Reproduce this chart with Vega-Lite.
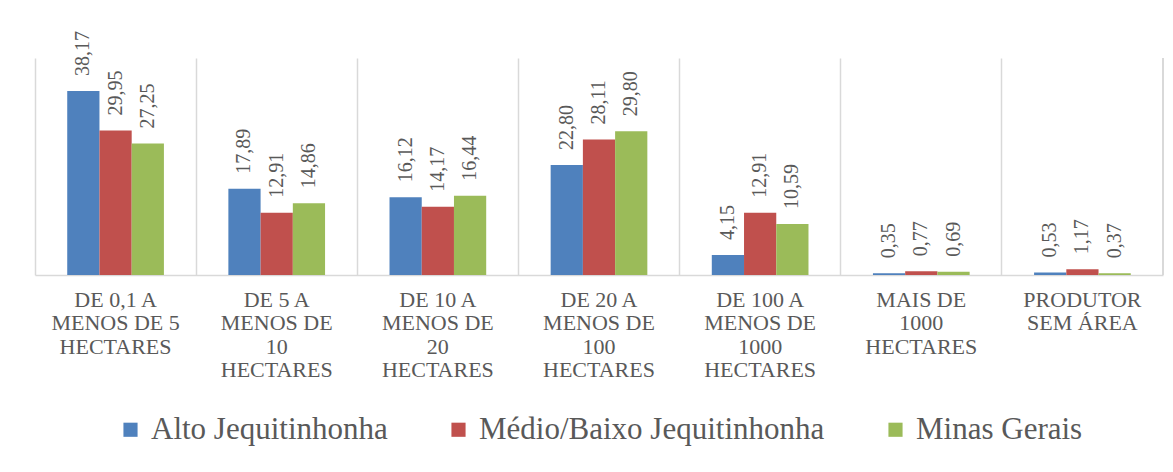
{
  "$schema": "https://vega.github.io/schema/vega-lite/v6.json",
  "width": 1128,
  "height": 217,
  "autosize": {"type": "none"},
  "padding": {"left": 35, "top": 58, "right": 10, "bottom": 197},
  "background": "white",
  "config": {
    "view": {"stroke": null},
    "font": "'Liberation Serif', 'DejaVu Serif', serif",
    "legend": {"layout": {"bottom": {"anchor": "middle"}}}
  },
  "data": {
    "values": [
      {"cat": "DE 0,1 A\nMENOS DE 5\nHECTARES", "serie": "Alto Jequitinhonha", "valor": 38.17, "rotulo": "38,17"},
      {"cat": "DE 0,1 A\nMENOS DE 5\nHECTARES", "serie": "Médio/Baixo Jequitinhonha", "valor": 29.95, "rotulo": "29,95"},
      {"cat": "DE 0,1 A\nMENOS DE 5\nHECTARES", "serie": "Minas Gerais", "valor": 27.25, "rotulo": "27,25"},
      {"cat": "DE 5 A\nMENOS DE\n10\nHECTARES", "serie": "Alto Jequitinhonha", "valor": 17.89, "rotulo": "17,89"},
      {"cat": "DE 5 A\nMENOS DE\n10\nHECTARES", "serie": "Médio/Baixo Jequitinhonha", "valor": 12.91, "rotulo": "12,91"},
      {"cat": "DE 5 A\nMENOS DE\n10\nHECTARES", "serie": "Minas Gerais", "valor": 14.86, "rotulo": "14,86"},
      {"cat": "DE 10 A\nMENOS DE\n20\nHECTARES", "serie": "Alto Jequitinhonha", "valor": 16.12, "rotulo": "16,12"},
      {"cat": "DE 10 A\nMENOS DE\n20\nHECTARES", "serie": "Médio/Baixo Jequitinhonha", "valor": 14.17, "rotulo": "14,17"},
      {"cat": "DE 10 A\nMENOS DE\n20\nHECTARES", "serie": "Minas Gerais", "valor": 16.44, "rotulo": "16,44"},
      {"cat": "DE 20 A\nMENOS DE\n100\nHECTARES", "serie": "Alto Jequitinhonha", "valor": 22.80, "rotulo": "22,80"},
      {"cat": "DE 20 A\nMENOS DE\n100\nHECTARES", "serie": "Médio/Baixo Jequitinhonha", "valor": 28.11, "rotulo": "28,11"},
      {"cat": "DE 20 A\nMENOS DE\n100\nHECTARES", "serie": "Minas Gerais", "valor": 29.80, "rotulo": "29,80"},
      {"cat": "DE 100 A\nMENOS DE\n1000\nHECTARES", "serie": "Alto Jequitinhonha", "valor": 4.15, "rotulo": "4,15"},
      {"cat": "DE 100 A\nMENOS DE\n1000\nHECTARES", "serie": "Médio/Baixo Jequitinhonha", "valor": 12.91, "rotulo": "12,91"},
      {"cat": "DE 100 A\nMENOS DE\n1000\nHECTARES", "serie": "Minas Gerais", "valor": 10.59, "rotulo": "10,59"},
      {"cat": "MAIS DE\n1000\nHECTARES", "serie": "Alto Jequitinhonha", "valor": 0.35, "rotulo": "0,35"},
      {"cat": "MAIS DE\n1000\nHECTARES", "serie": "Médio/Baixo Jequitinhonha", "valor": 0.77, "rotulo": "0,77"},
      {"cat": "MAIS DE\n1000\nHECTARES", "serie": "Minas Gerais", "valor": 0.69, "rotulo": "0,69"},
      {"cat": "PRODUTOR\nSEM ÁREA", "serie": "Alto Jequitinhonha", "valor": 0.53, "rotulo": "0,53"},
      {"cat": "PRODUTOR\nSEM ÁREA", "serie": "Médio/Baixo Jequitinhonha", "valor": 1.17, "rotulo": "1,17"},
      {"cat": "PRODUTOR\nSEM ÁREA", "serie": "Minas Gerais", "valor": 0.37, "rotulo": "0,37"}
    ]
  },
  "layer": [
    {
      "mark": {"type": "bar"},
      "encoding": {
        "x": {
          "field": "cat", "type": "nominal", "sort": null, "title": null,
          "scale": {"paddingInner": 0, "paddingOuter": 0},
          "axis": {
            "labelAngle": 0, "labelFont": "'Liberation Serif', 'DejaVu Serif', serif", "labelFontSize": 22,
            "labelColor": "#595959", "labelLineHeight": 23.5, "labelPadding": 14,
            "labelExpr": "split(datum.label, '\\n')", "labelLimit": 200,
            "ticks": false, "domainColor": "#d9d9d9", "domainWidth": 1.5,
            "grid": true, "bandPosition": 0, "gridColor": "#d9d9d9", "gridWidth": 1.5
          }
        },
        "xOffset": {"field": "serie", "type": "nominal", "sort": ["Alto Jequitinhonha", "Médio/Baixo Jequitinhonha", "Minas Gerais"], "scale": {"paddingInner": 0, "paddingOuter": 2.2}},
        "y": {"field": "valor", "type": "quantitative", "scale": {"domain": [0, 45]}, "axis": null},
        "color": {
          "field": "serie", "type": "nominal",
          "scale": {"domain": ["Alto Jequitinhonha", "Médio/Baixo Jequitinhonha", "Minas Gerais"], "range": ["#4f81bd", "#c0504d", "#9bbb59"]},
          "legend": {
            "title": null, "orient": "bottom", "direction": "horizontal",
            "symbolType": "square", "symbolSize": 200, "symbolStrokeWidth": 0,
            "labelFont": "'Liberation Serif', 'DejaVu Serif', serif", "labelFontSize": 31, "labelColor": "#595959",
            "labelLimit": 500, "columnPadding": 55, "labelOffset": 5, "offset": 33
          }
        }
      }
    },
    {
      "mark": {"type": "text", "angle": 270, "align": "left", "baseline": "middle", "dx": 15, "fontSize": 20, "color": "#595959", "font": "'Liberation Serif', 'DejaVu Serif', serif"},
      "encoding": {
        "x": {"field": "cat", "type": "nominal", "sort": null},
        "xOffset": {"field": "serie", "type": "nominal", "sort": ["Alto Jequitinhonha", "Médio/Baixo Jequitinhonha", "Minas Gerais"]},
        "y": {"field": "valor", "type": "quantitative"},
        "text": {"field": "rotulo", "type": "nominal"}
      }
    },
    {
      "mark": {"type": "rule", "color": "#d9d9d9", "strokeWidth": 1.5},
      "encoding": {
        "x": {"datum": "PRODUTOR\nSEM ÁREA", "bandPosition": 1}
      }
    }
  ]
}
